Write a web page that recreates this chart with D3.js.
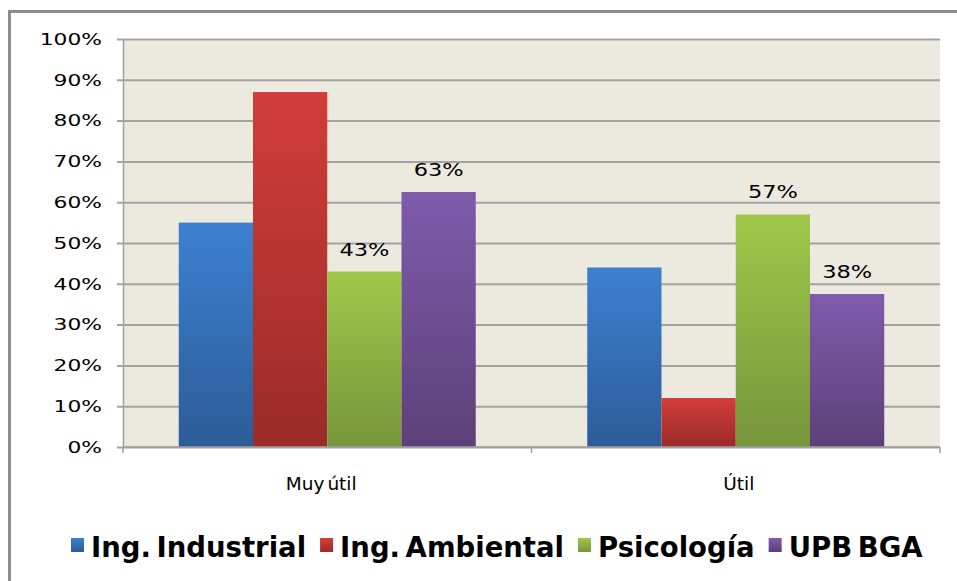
<!DOCTYPE html>
<html>
<head>
<meta charset="utf-8">
<script src="https://cdn.jsdelivr.net/npm/d3@7"></script>
<style>
  body { margin: 0; background: #fff; }
  svg { display: block; }
</style>
</head>
<body>
<svg id="chart"></svg>
<script>
// data
var categories = ["Muy útil", "Útil"];
var series = ["Ing. Industrial", "Ing. Ambiental", "Psicología", "UPB BGA"];
var indIndustrial = [0.55, 0.44];
var indAmbiental = [0.87, 0.12];
var psicologia = [0.43, 0.57];
var upbBga = [0.625, 0.375];
var labelText = [[null, null], [null, null], ["43%", "57%"], ["63%", "38%"]];
var yTicks = [0, 0.1, 0.2, 0.3, 0.4, 0.5, 0.6, 0.7, 0.8, 0.9, 1];

var values = [indIndustrial, indAmbiental, psicologia, upbBga];
var colours = [
  ["#3d80d0", "#2c5c98"],
  ["#d23d39", "#9a2b29"],
  ["#9fc84a", "#76953a"],
  ["#7f5bab", "#5d4079"]
];

var width = 957, height = 581;
var plot = {left: 123, right: 940, top: 39, bottom: 447};
var font = "'DejaVu Sans', Verdana, sans-serif";

var svg = d3.select("#chart").attr("width", width).attr("height", height);

// frame (only top and left edges are inside the picture)
svg.append("path")
  .attr("d", "M9.5,600 V11.5 H980")
  .attr("fill", "none")
  .attr("stroke", "#8c8c8c")
  .attr("stroke-width", 3);

var defs = svg.append("defs");
colours.forEach(function(c, i) {
  var g = defs.append("linearGradient")
    .attr("id", "grad" + i)
    .attr("x1", 0).attr("y1", 0).attr("x2", 0).attr("y2", 1);
  g.append("stop").attr("offset", "0%").attr("stop-color", c[0]);
  g.append("stop").attr("offset", "100%").attr("stop-color", c[1]);
});

var y = d3.scaleLinear().domain([0, 1]).range([plot.bottom, plot.top]);

var x0 = d3.scaleBand()
  .domain(categories)
  .range([plot.left, plot.right])
  .paddingInner(0.273)
  .paddingOuter(0.1365);

var x1 = d3.scaleBand()
  .domain(series)
  .range([0, x0.bandwidth()]);

// plot background
svg.append("rect")
  .attr("x", plot.left).attr("y", plot.top)
  .attr("width", plot.right - plot.left)
  .attr("height", plot.bottom - plot.top)
  .attr("fill", "#ece9df");

// y axis with grid
var yAxis = svg.append("g")
  .attr("transform", "translate(" + plot.left + ",0)")
  .call(d3.axisLeft(y).tickValues(yTicks).tickFormat(d3.format(".0%"))
    .tickSizeInner(-(plot.right - plot.left)).tickSizeOuter(0).tickPadding(22));

yAxis.select(".domain").attr("stroke", "#a0a0a0").attr("stroke-width", 1.5);
yAxis.selectAll(".tick line")
  .attr("stroke", "#a3a3a3")
  .attr("stroke-width", 2)
  .attr("x1", -6);
yAxis.selectAll(".tick text")
  .attr("fill", "#000")
  .style("font-family", font)
  .style("font-size", "16.5px")
  .attr("transform", "scale(1.32,1)")
  .attr("x", -21 / 1.32);

// bars
var groups = svg.append("g").selectAll("g")
  .data(categories)
  .enter().append("g")
  .attr("transform", function(d) { return "translate(" + x0(d) + ",0)"; });

function rows(d, ci) {
  return series.map(function(s, si) { return {s: s, si: si, v: values[si][ci], label: labelText[si][ci]}; });
}

groups.selectAll("rect")
  .data(rows)
  .enter().append("rect")
  .attr("x", function(d) { return x1(d.s); })
  .attr("y", function(d) { return y(d.v); })
  .attr("width", x1.bandwidth())
  .attr("height", function(d) { return y(0) - y(d.v); })
  .attr("fill", function(d) { return "url(#grad" + d.si + ")"; });

var lblScale = 1.25;
groups.selectAll("text.lbl")
  .data(function(d, ci) { return rows(d, ci).filter(function(r) { return r.label; }); })
  .enter().append("text")
  .attr("class", "lbl")
  .attr("transform", function(d) {
    return "translate(" + (x1(d.s) + x1.bandwidth() / 2) + "," + (y(d.v) - 16) + ") scale(" + lblScale + ",1)";
  })
  .attr("text-anchor", "middle")
  .style("font-family", font)
  .style("font-size", "18px")
  .attr("fill", "#000")
  .text(function(d) { return d.label; });

// x axis
var xAxis = svg.append("g");
xAxis.append("line")
  .attr("x1", plot.left).attr("x2", plot.right)
  .attr("y1", plot.bottom).attr("y2", plot.bottom)
  .attr("stroke", "#a0a0a0").attr("stroke-width", 1.5);
var bounds = [plot.left, x0(categories[1]) - x0.step() * 0.273 / 2, plot.right];
xAxis.selectAll("line.t")
  .data(bounds)
  .enter().append("line")
  .attr("class", "t")
  .attr("x1", function(d) { return d; }).attr("x2", function(d) { return d; })
  .attr("y1", plot.bottom).attr("y2", plot.bottom + 6)
  .attr("stroke", "#a0a0a0").attr("stroke-width", 1.5);
xAxis.selectAll("text")
  .data(categories)
  .enter().append("text")
  .attr("x", function(d, i) { return x0(d) + x0.bandwidth() / 2 + (i === 0 ? -6 : 3); })
  .attr("y", 490)
  .attr("text-anchor", "middle")
  .style("font-family", font)
  .style("font-size", "18.5px")
  .style("word-spacing", "-3px")
  .attr("fill", "#000")
  .text(function(d) { return d; });

// legend
var legend = svg.append("g");
var items = legend.selectAll("g")
  .data(series)
  .enter().append("g");
items.append("rect")
  .attr("y", 538)
  .attr("width", 13).attr("height", 14)
  .attr("fill", function(d, i) { return "url(#grad" + i + ")"; });
items.append("text")
  .attr("x", 20)
  .attr("y", 557)
  .style("font-family", font)
  .style("font-weight", "bold")
  .style("font-size", "27.5px")
  .style("word-spacing", "-4px")
  .attr("fill", "#000")
  .text(function(d) { return d; });

var xpos = 71;
items.each(function() {
  var w = d3.select(this).select("text").node().getComputedTextLength();
  d3.select(this).attr("transform", "translate(" + xpos + ",0)");
  xpos += 20 + w + 14;
});
</script>
</body>
</html>
